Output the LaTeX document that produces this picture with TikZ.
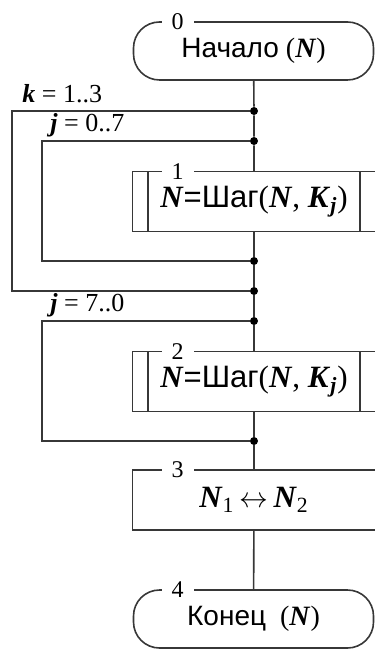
\documentclass[tikz,border=0pt]{standalone}
\usepackage{fontspec}
\setmainfont{Liberation Serif}
\newfontfamily\cyr{Liberation Sans}
\usetikzlibrary{positioning,calc}
\definecolor{Line}{RGB}{55,55,55}
\newcommand\bi[1]{\textbf{\textit{#1}}}

\begin{document}
\begin{tikzpicture}[
    x=0.5pt, y=0.5pt,
    link/.style={draw=Line, line width=0.8pt},
    term/.style={draw=Line, line width=0.8pt, rounded corners=13pt,
      minimum width=120pt, minimum height=29pt, inner sep=0pt,
      font=\fontsize{14}{16}\selectfont},
    % box open on the right: it runs off the edge of the page
    stepbox/.style={minimum width=121pt, minimum height=29.5pt, inner sep=0pt,
      font=\fontsize{15.5}{18}\selectfont,
      append after command={\pgfextra{\let\boxnode\tikzlastnode
        \draw[link] (\boxnode.north east) -- (\boxnode.north west)
          -- (\boxnode.south west) -- (\boxnode.south east);}}},
    proc/.style={stepbox, path picture={
        \draw[Line, line width=0.8pt]
          ([xshift=7.5pt]path picture bounding box.north west) --
          ([xshift=7.5pt]path picture bounding box.south west)
          ([xshift=-7.5pt]path picture bounding box.north east) --
          ([xshift=-7.5pt]path picture bounding box.south east);}},
    num/.style={fill=white, inner xsep=5pt, inner ysep=0pt,
      font=\fontsize{12}{13}\selectfont},
    looplab/.style={anchor=base west, inner sep=0pt,
      font=\fontsize{13}{15}\selectfont},
    dot/.style={circle, fill=black, inner sep=0pt, minimum size=4pt}
  ]
    \useasboundingbox (0,0) rectangle (374,-651);

    % blocks on the main line
    \node[term] (t0) at (253.5,-51) {{\cyr Начало} (\bi{N})};
    \node[proc] (b1) at (254,-201.5) {\bi{N}{\cyr =Шаг}(\bi{N}, \bi{K}\textsubscript{\bi{j}})};
    \node[proc] (b2) at (254,-381.5) {\bi{N}{\cyr =Шаг}(\bi{N}, \bi{K}\textsubscript{\bi{j}})};
    \node[stepbox] (b3) at (254,-500) {\bi{N}\textsubscript{1}\,$\leftrightarrow$\,\bi{N}\textsubscript{2}};
    \node[term] (t4) at (253.5,-619) {{\cyr Конец}\ \ (\bi{N})};

    % block numbers
    \node[num] (n0) at ([xshift=22.5pt]t0.north west) {0};
    \node[num] (n1) at ([xshift=22.5pt]b1.north west) {1};
    \node[num] (n2) at ([xshift=22.5pt]b2.north west) {2};
    \node[num] (n3) at ([xshift=22.5pt]b3.north west) {3};
    \node[num] (n4) at ([xshift=22.5pt]t4.north west) {4};

    % loop junctions
    \node[dot] (kBeg) at (254,-111) {};
    \node[dot] (jBeg) at (254,-141) {};
    \node[dot] (jEnd) at (254,-261) {};
    \node[dot] (kEnd) at (254,-291) {};
    \node[dot] (jjBeg) at (254,-321) {};
    \node[dot] (jjEnd) at (254,-441) {};

    \node[looplab] (kLab) at ($(kBeg)+(-232,8)$) {\bi{k} = 1..3};
    \node[looplab] (jLab) at ($(jBeg)+(-204,9)$) {\bi{j} = 0..7};
    \node[looplab] (jjLab) at ($(jjBeg)+(-204,9)$) {\bi{j} = 7..0};

    % main line
    \draw[link] (t0) -- (kBeg) -- (jBeg) -- (b1);
    \draw[link] (b1) -- (jEnd) -- (kEnd) -- (jjBeg) -- (b2);
    \draw[link] (b2) -- (jjEnd) -- (b3);
    \draw[link] (b3) -- (t4);

    % loops
    \draw[link] (kBeg) -- ++(-242,0) |- (kEnd);
    \draw[link] (jBeg) -- ++(-212,0) |- (jEnd);
    \draw[link] (jjBeg) -- ++(-212,0) |- (jjEnd);
  \end{tikzpicture}
\end{document}
